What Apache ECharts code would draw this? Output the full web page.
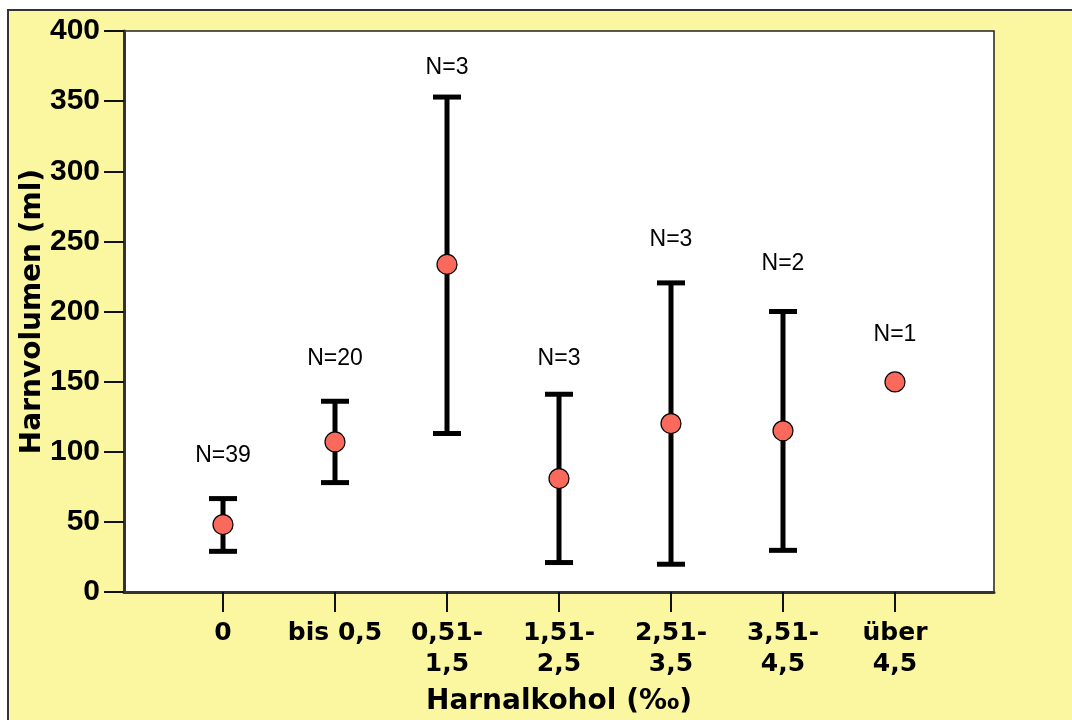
<!DOCTYPE html>
<html>
<head>
<meta charset="utf-8">
<script src="https://cdn.jsdelivr.net/npm/echarts@6/dist/echarts.min.js"></script>
<style>
html,body{margin:0;padding:0;background:#ffffff;}
#chart{width:1072px;height:720px;}
</style>
</head>
<body>
<div id="chart"></div>
<script>
// ---- data ----
var categories = ['0', 'bis 0,5', '0,51-\n1,5', '1,51-\n2,5', '2,51-\n3,5', '3,51-\n4,5', 'über\n4,5'];
var means      = [48.1, 107.0, 233.6, 80.9, 120.1, 114.9, 149.8];
var lowValues  = [29.0, 78.0, 113.0, 21.0, 19.8, 29.7, null];
var highValues = [66.6, 136.0, 352.9, 141.0, 220.4, 200.0, null];
var nLabels    = ['N=39', 'N=20', 'N=3', 'N=3', 'N=3', 'N=2', 'N=1'];
var nLabelY    = [97.5, 166.1, 373.8, 166.5, 250.9, 234.3, 183.6];
var yTicks     = [0, 50, 100, 150, 200, 250, 300, 350, 400];

var idx = categories.map(function (c, i) { return i; });
var errData = idx.filter(function (i) { return lowValues[i] != null; })
  .map(function (i) { return [i, lowValues[i], highValues[i]]; });
var meanData = idx.map(function (i) { return [i, means[i]]; });
var labelData = idx.map(function (i) { return [i, nLabelY[i], nLabels[i]]; });

var chart = echarts.init(document.getElementById('chart'), null, {renderer: 'canvas'});

var option = {
  animation: false,
  backgroundColor: '#ffffff',
  graphic: [{
    type: 'rect', z: -10, silent: true,
    shape: {x: 8, y: 10, width: 1200, height: 900},
    style: {fill: '#FAF7A0', stroke: '#333333', lineWidth: 2}
  }],
  grid: {
    left: 124, right: 78, top: 31, bottom: 128,
    show: true, backgroundColor: '#ffffff', borderColor: '#222222', borderWidth: 1.5,
    outerBoundsMode: 'none'
  },
  xAxis: {
    type: 'value',
    min: -0.884, max: 6.884,
    splitLine: {show: false},
    axisLine: {show: true, onZero: false, lineStyle: {color: '#333333', width: 3}},
    axisTick: {show: true, length: 20, customValues: idx, lineStyle: {color: '#111111', width: 2}},
    axisLabel: {
      customValues: idx,
      margin: 26,
      formatter: function (v) { return categories[Math.round(v)]; },
      fontFamily: 'DejaVu Sans', fontWeight: 'bold', fontSize: 25, lineHeight: 31, color: '#000000'
    },
    name: 'Harnalkohol (‰)',
    nameLocation: 'middle',
    nameGap: 96,
    nameMoveOverlap: false,
    nameTextStyle: {fontFamily: 'DejaVu Sans', fontWeight: 'bold', fontSize: 28, color: '#000000'}
  },
  yAxis: {
    type: 'value',
    min: 0, max: 400, interval: 50,
    splitLine: {show: false},
    axisLine: {show: true, onZero: false, lineStyle: {color: '#333333', width: 3}},
    axisTick: {show: true, length: 20, lineStyle: {color: '#111111', width: 2}},
    axisLabel: {
      margin: 24,
      fontFamily: 'Liberation Sans', fontWeight: 'bold', fontSize: 30, color: '#000000',
      formatter: function (v) { return yTicks.indexOf(v) >= 0 ? String(v) : ''; }
    },
    name: 'Harnvolumen (ml)',
    nameLocation: 'middle',
    nameGap: 77,
    nameMoveOverlap: false,
    nameTextStyle: {fontFamily: 'DejaVu Sans', fontWeight: 'bold', fontSize: 28, color: '#000000'}
  },
  series: [
    {
      type: 'custom',
      data: errData,
      z: 2,
      renderItem: function (params, api) {
        var x = api.value(0);
        var lo = api.coord([x, api.value(1)]);
        var hi = api.coord([x, api.value(2)]);
        var hw = 14;
        var st = {stroke: '#000000', lineWidth: 5};
        return {
          type: 'group',
          children: [
            {type: 'line', shape: {x1: lo[0], y1: lo[1], x2: hi[0], y2: hi[1]}, style: st},
            {type: 'line', shape: {x1: lo[0] - hw, y1: lo[1], x2: lo[0] + hw, y2: lo[1]}, style: st},
            {type: 'line', shape: {x1: hi[0] - hw, y1: hi[1], x2: hi[0] + hw, y2: hi[1]}, style: st}
          ]
        };
      }
    },
    {
      type: 'scatter',
      data: meanData,
      z: 3,
      symbol: 'circle',
      symbolSize: 20,
      itemStyle: {color: '#FA6A5C', borderColor: '#000000', borderWidth: 1.2, opacity: 1}
    },
    {
      type: 'scatter',
      data: labelData,
      z: 4,
      symbolSize: 0,
      itemStyle: {opacity: 1},
      label: {
        show: true, position: 'inside',
        formatter: function (p) { return p.value[2]; },
        fontFamily: 'Liberation Sans', fontSize: 23, color: '#000000',
        textBorderWidth: 0, opacity: 1
      }
    }
  ]
};
chart.setOption(option);
</script>
</body>
</html>
